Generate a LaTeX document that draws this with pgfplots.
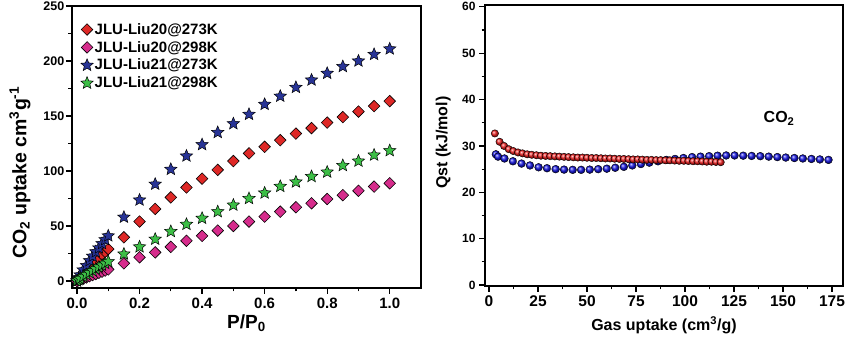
\documentclass[border=0pt]{standalone}
\usepackage{fontspec}
\setmainfont{Liberation Sans}
\usepackage{pgfplots}
\pgfplotsset{compat=1.18}
\usetikzlibrary{plotmarks}
\definecolor{cRed}{RGB}{222,40,38}
\definecolor{cPink}{RGB}{214,44,140}
\definecolor{cBlue}{RGB}{40,52,150}
\definecolor{cGreen}{RGB}{60,190,70}
\definecolor{bBlue}{RGB}{20,20,230}
\definecolor{bRed}{RGB}{240,30,30}
\pgfdeclareplotmark{fstar}{%
  \pgfpathmoveto{\pgfpointpolar{90}{\pgfplotmarksize}}%
  \pgfpathlineto{\pgfpointpolar{126}{0.45\pgfplotmarksize}}%
  \pgfpathlineto{\pgfpointpolar{162}{\pgfplotmarksize}}%
  \pgfpathlineto{\pgfpointpolar{198}{0.45\pgfplotmarksize}}%
  \pgfpathlineto{\pgfpointpolar{234}{\pgfplotmarksize}}%
  \pgfpathlineto{\pgfpointpolar{270}{0.45\pgfplotmarksize}}%
  \pgfpathlineto{\pgfpointpolar{306}{\pgfplotmarksize}}%
  \pgfpathlineto{\pgfpointpolar{342}{0.45\pgfplotmarksize}}%
  \pgfpathlineto{\pgfpointpolar{18}{\pgfplotmarksize}}%
  \pgfpathlineto{\pgfpointpolar{54}{0.45\pgfplotmarksize}}%
  \pgfpathclose
  \pgfusepathqfillstroke}
\begin{document}
\begin{tikzpicture}
\path[use as bounding box] (0,0) rectangle (860pt,342pt);
\begin{axis}[
  at={(72pt,54pt)}, anchor=south west, scale only axis,
  width=349pt, height=282pt,
  xmin=-0.016, xmax=1.1, ymin=-6.4, ymax=250,
  axis line style={line width=2pt},
  tick align=outside, xtick pos=left, ytick pos=left,
  xtick={0,0.2,0.4,0.6,0.8,1}, ytick={0,50,100,150,200,250},
  minor x tick num=1, minor y tick num=1,
  major tick length=6pt, minor tick length=3.5pt,
  every tick/.style={line width=1.2pt, black},
  /pgf/number format/assume math mode=true,
  xticklabel style={font=\fontsize{15}{17}\selectfont\bfseries, /pgf/number format/.cd, fixed, fixed zerofill, precision=1},
  yticklabel style={font=\fontsize{12.5}{14}\selectfont\bfseries, inner xsep=1.5pt},
  xlabel={P/P\textsubscript{0}},
  ylabel={CO\textsubscript{2} uptake cm\textsuperscript{3}g\textsuperscript{-1}},
  xlabel style={at={(axis description cs:0.5,-0.124)}, anchor=center, font=\fontsize{19}{21}\selectfont\bfseries},
  ylabel style={at={(axis description cs:-0.149,0.41)}, anchor=center, font=\fontsize{19.5}{21}\selectfont\bfseries},
  legend style={draw=none, fill=none, at={(axis description cs:0.022,0.948)}, anchor=north west,
    font=\fontsize{15}{17}\selectfont\bfseries, row sep=2.5pt, inner sep=1pt, nodes={inner sep=1.5pt}},
  legend cell align=left,
  legend image code/.code={\draw[mark repeat=2,mark phase=2,#1] plot coordinates {(0pt,0pt) (11pt,0pt) (22pt,0pt)};},
]
\addplot[only marks, mark=square*, mark size=4.1pt, mark options={rotate=45, fill=cRed, draw=black, line width=0.6pt}] coordinates {
(0,0) (0.005,2) (0.01,3.5) (0.02,6.5) (0.03,9.5) (0.04,12.5) (0.05,15.5) (0.06,18.5) (0.07,21) (0.08,24) (0.09,26.5) (0.1,29)
(0.15,39.7) (0.2,54) (0.25,65.5) (0.3,76) (0.35,85) (0.4,93) (0.45,101) (0.5,109) (0.55,116) (0.6,122) (0.65,128) (0.7,134)
(0.75,139) (0.8,144) (0.85,149) (0.9,154) (0.95,159) (1.0,163.5)};
\addlegendentry{JLU-Liu20@273K}
\addplot[only marks, mark=square*, mark size=4.1pt, mark options={rotate=45, fill=cPink, draw=black, line width=0.6pt}] coordinates {
(0,0) (0.005,0.6) (0.01,1.1) (0.02,2.2) (0.03,3.2) (0.04,4.3) (0.05,5.3) (0.06,6.3) (0.07,7.4) (0.08,8.4) (0.09,9.4) (0.1,10.5)
(0.15,16) (0.2,21.5) (0.25,26) (0.3,31) (0.35,36.5) (0.4,41) (0.45,45.8) (0.5,50) (0.55,54) (0.6,58.5) (0.65,63) (0.7,67)
(0.75,70.6) (0.8,74.5) (0.85,78) (0.9,82) (0.95,85.8) (1.0,88.8)};
\addlegendentry{JLU-Liu20@298K}
\addplot[only marks, mark=fstar, mark size=6.5pt, mark options={fill=cBlue, draw=black, line width=0.5pt}] coordinates {
(0,0) (0.005,3) (0.01,5.5) (0.02,10) (0.03,14) (0.04,18.5) (0.05,22.5) (0.06,26.5) (0.07,30) (0.08,34) (0.09,37.5) (0.1,41)
(0.15,58) (0.2,73.6) (0.25,88) (0.3,101.5) (0.35,113.6) (0.4,124) (0.45,135) (0.5,143) (0.55,151.5) (0.6,160.6) (0.65,168)
(0.7,176) (0.75,182.7) (0.8,188.8) (0.85,195) (0.9,200) (0.95,206) (1.0,211)};
\addlegendentry{JLU-Liu21@273K}
\addplot[only marks, mark=fstar, mark size=6.5pt, mark options={fill=cGreen, draw=black, line width=0.5pt}] coordinates {
(0,0) (0.005,1.2) (0.01,2.2) (0.02,4) (0.03,5.8) (0.04,7.6) (0.05,9.3) (0.06,11) (0.07,12.7) (0.08,14.3) (0.09,16) (0.1,17.6)
(0.15,24.5) (0.2,31) (0.25,38) (0.3,45) (0.35,51.5) (0.4,57) (0.45,63) (0.5,69) (0.55,75) (0.6,80) (0.65,86) (0.7,90)
(0.75,95) (0.8,99) (0.85,105) (0.9,109) (0.95,114.5) (1.0,118.5)};
\addlegendentry{JLU-Liu21@298K}
\end{axis}
\begin{axis}[
  at={(485pt,56pt)}, anchor=south west, scale only axis,
  width=358pt, height=281pt,
  xmin=-2.04, xmax=180.6, ymin=-0.2, ymax=60.4,
  axis line style={line width=2pt},
  tick align=outside, xtick pos=left, ytick pos=left,
  xtick={0,25,50,75,100,125,150,175}, ytick={0,10,20,30,40,50,60},
  minor x tick num=1, minor y tick num=1,
  major tick length=6pt, minor tick length=3.5pt,
  every tick/.style={line width=1.2pt, black},
  /pgf/number format/assume math mode=true,
  xticklabel style={font=\fontsize{15.5}{17}\selectfont\bfseries},
  yticklabel style={font=\fontsize{12}{14}\selectfont\bfseries},
  xlabel={Gas uptake (cm\textsuperscript{3}/g)},
  ylabel={Qst (kJ/mol)},
  xlabel style={at={(axis description cs:0.5,-0.139)}, anchor=center, font=\fontsize{16}{18}\selectfont\bfseries},
  ylabel style={at={(axis description cs:-0.117,0.51)}, anchor=center, font=\fontsize{16}{18}\selectfont\bfseries},
]
\addplot[only marks, mark=ball, mark size=3.9pt, mark options={ball color=bBlue}] coordinates {
(3.5,28.2) (4.6,27.7) (7.9,27.3) (12.2,26.7) (16.6,26.2) (20.9,25.8) (25.3,25.4) (29.6,25.2) (34.0,25.0) (38.3,24.9)
(42.7,24.85) (47.0,24.85) (51.4,24.9) (55.7,25.0) (60.1,25.1) (64.4,25.3) (68.8,25.5) (73.1,25.8) (77.5,26.1) (81.8,26.4)
(86.2,26.7) (90.5,27.0) (94.9,27.2) (99.2,27.4) (103.6,27.6) (107.9,27.7) (112.3,27.8) (116.6,27.9) (121.0,27.95) (125.3,27.95)
(129.7,27.9) (134.0,27.85) (138.4,27.8) (142.7,27.7) (147.1,27.6) (151.4,27.5) (155.8,27.4) (160.1,27.3) (164.5,27.2) (168.8,27.1) (173.2,27.0)};
\addplot[only marks, mark=ball, mark size=3.7pt, mark options={ball color=bRed}] coordinates {
(3.0,32.7) (5.4,30.9) (7.7,30.0) (10.1,29.3) (12.4,28.9) (14.8,28.6) (17.1,28.4) (19.5,28.2) (21.8,28.1) (24.2,28.0)
(26.5,27.9) (28.9,27.85) (31.2,27.8) (33.6,27.75) (35.9,27.7) (38.3,27.65) (40.6,27.6) (43.0,27.55) (45.3,27.5) (47.7,27.5)
(50.0,27.45) (52.4,27.4) (54.7,27.4) (57.1,27.35) (59.4,27.3) (61.8,27.3) (64.1,27.25) (66.5,27.2) (68.8,27.2) (71.2,27.15)
(73.5,27.1) (75.9,27.1) (78.2,27.05) (80.6,27.0) (82.9,27.0) (85.3,26.95) (87.6,26.95) (90.0,26.9) (92.3,26.9) (94.7,26.85)
(97.0,26.8) (99.4,26.8) (101.7,26.75) (104.1,26.7) (106.4,26.7) (108.8,26.65) (111.1,26.6) (113.5,26.6) (115.8,26.55) (118.2,26.5)};
\node[font=\fontsize{16}{18}\selectfont\bfseries] at (axis cs:148,36) {CO\textsubscript{2}};
\end{axis}
\end{tikzpicture}
\end{document}
